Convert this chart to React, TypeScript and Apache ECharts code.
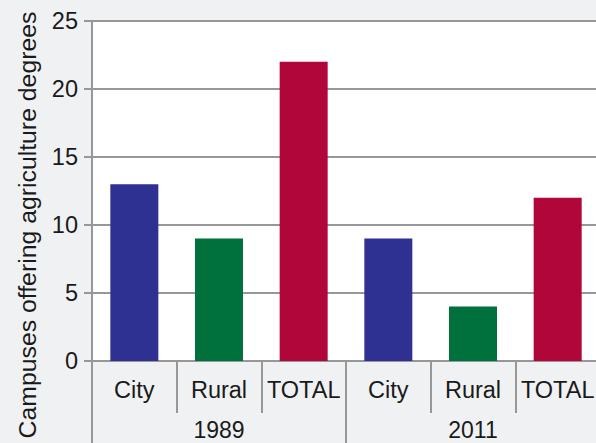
import React, { useEffect, useRef } from "react";
import * as echarts from "echarts";

const categories = ["City", "Rural", "TOTAL", "City", "Rural", "TOTAL"];
const groups = ["1989", "2011"];
const values = [13, 9, 22, 9, 4, 12];
const barColors = ["#2e3192", "#00703c", "#b10639", "#2e3192", "#00703c", "#b10639"];
const yTitle = "Campuses offering agriculture degrees";

const FONT = "'Liberation Sans', Arial, Helvetica, sans-serif";
const GRAY = "#979797";
const TEXT = "#1a1a1a";

export default function App() {
  const ref = useRef<HTMLDivElement>(null);
  useEffect(() => {
    document.body.style.margin = "0";
    const chart = echarts.init(ref.current!, null, { renderer: "svg" });
    chart.setOption({
      animation: false,
      backgroundColor: "#f0f1f3",
      grid: {
        left: 92,
        right: -4,
        top: 21,
        bottom: 82,
        show: true,
        backgroundColor: "#ffffff",
        borderWidth: 0,
        containLabel: false,
        outerBoundsMode: "none",
      },
      graphic: [
        {
          type: "text",
          x: 27,
          y: 225,
          rotation: Math.PI / 2,
          style: {
            text: yTitle,
            fontSize: 24.8,
            fontFamily: FONT,
            fill: TEXT,
            align: "center",
            verticalAlign: "middle",
          },
        },
      ],
      xAxis: [
        {
          type: "category",
          data: categories,
          position: "bottom",
          axisLine: { show: true, lineStyle: { color: GRAY, width: 2 } },
          axisTick: { show: true, interval: 0, length: 52, lineStyle: { color: GRAY, width: 2 } },
          axisLabel: { interval: 0, margin: 17, fontSize: 23.5, color: TEXT, fontFamily: FONT },
        },
        {
          type: "category",
          data: groups,
          position: "bottom",
          axisLine: { show: false },
          axisTick: { show: true, interval: 0, length: 84, lineStyle: { color: GRAY, width: 2 } },
          axisLabel: { interval: 0, margin: 57, fontSize: 23, color: TEXT, fontFamily: FONT },
        },
      ],
      yAxis: {
        type: "value",
        min: 0,
        max: 25,
        interval: 5,
        axisLine: { show: true, lineStyle: { color: GRAY, width: 2 } },
        axisTick: { show: true, length: 8, lineStyle: { color: GRAY, width: 2 } },
        axisLabel: { margin: 14, fontSize: 23.5, color: TEXT, fontFamily: FONT },
        splitLine: { show: true, lineStyle: { color: GRAY, width: 2 } },
      },
      series: [
        {
          type: "bar",
          xAxisIndex: 0,
          barWidth: 48,
          data: values.map((v, i) => ({ value: v, itemStyle: { color: barColors[i] } })),
        },
      ],
    });
    return () => chart.dispose();
  }, []);
  return (
    <div
      ref={ref}
      style={{ position: "fixed", left: 0, top: 0, width: 596, height: 443 }}
    />
  );
}
